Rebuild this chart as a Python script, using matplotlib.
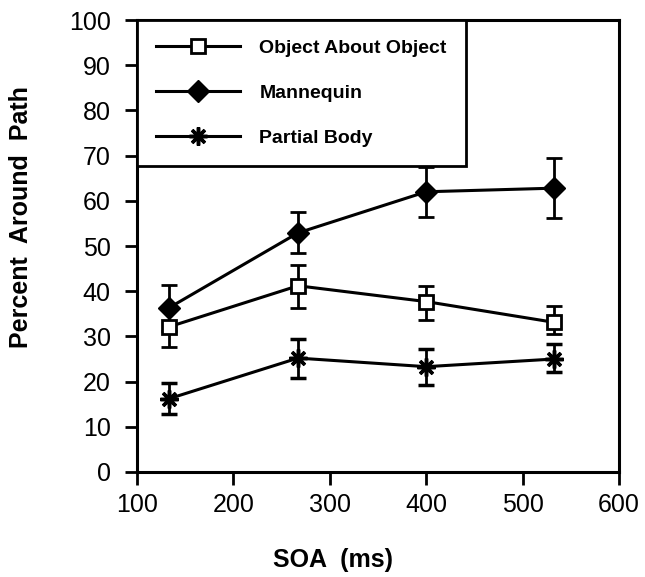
import numpy as np
import matplotlib
matplotlib.use('Agg')
import matplotlib.pyplot as plt

plt.rcParams['font.family'] = ['Liberation Sans', 'DejaVu Sans']

soa = [133, 267, 400, 533]

object_mean = [32.1, 41.2, 37.7, 33.1]
object_lo = [4.4, 4.9, 4.1, 2.6]
object_hi = [4.4, 4.6, 3.5, 3.7]

mannequin_mean = [36.3, 52.9, 62.0, 62.8]
mannequin_lo = [5.0, 4.4, 5.5, 6.5]
mannequin_hi = [5.1, 4.6, 5.5, 6.6]

partial_mean = [16.2, 25.2, 23.3, 25.0]
partial_lo = [3.4, 4.4, 4.1, 2.8]
partial_hi = [3.5, 4.2, 3.9, 3.3]

fig = plt.figure(figsize=(6.45, 5.77), dpi=100)
ax = fig.add_axes([0.2124, 0.182, 0.7473, 0.7833])

lw = 2.2
ax.errorbar(soa, object_mean, yerr=[object_lo, object_hi], color='black', lw=lw,
            marker='s', ms=10, mfc='white', mec='black', mew=2,
            capsize=6, capthick=2, elinewidth=2, label='Object About Object', zorder=3)
ax.errorbar(soa, mannequin_mean, yerr=[mannequin_lo, mannequin_hi], color='black', lw=lw,
            marker='D', ms=11, mfc='black', mec='black',
            capsize=6, capthick=2, elinewidth=2, label='Mannequin', zorder=3)
ax.errorbar(soa, partial_mean, yerr=[partial_lo, partial_hi], color='black', lw=lw,
            marker=(8, 2, 0), ms=13, mec='black', mew=2.5,
            capsize=6, capthick=2, elinewidth=2, label='Partial Body', zorder=3)

ax.set_xlim(100, 600)
ax.set_ylim(0, 100)
ax.set_xticks(range(100, 601, 100))
ax.set_yticks(range(0, 101, 10))
ax.tick_params(labelsize=18, width=2, length=9, direction='out')
ax.tick_params(axis='y', pad=10)
ax.tick_params(axis='x', pad=6)
for s in ax.spines.values():
    s.set_linewidth(2.2)

ax.set_xlabel('SOA  (ms)', fontsize=18, fontweight='bold')
ax.xaxis.set_label_coords(0.407, -0.168)
ax.set_ylabel('Percent  Around  Path', fontsize=18, fontweight='bold')
ax.yaxis.set_label_coords(-0.215, 0.564)

handles, labels = ax.get_legend_handles_labels()
handles = [h[0] for h in handles]
leg = ax.legend(handles, labels, loc='upper left', bbox_to_anchor=(0, 1),
                borderaxespad=0, fontsize=14, handlelength=4.3, handletextpad=1.0,
                labelspacing=1.4, borderpad=1.0, fancybox=False, framealpha=1,
                edgecolor='black')
leg.get_frame().set_linewidth(2)
leg.set_zorder(5)
for t in leg.get_texts():
    t.set_fontweight('bold')

fig.savefig('out.png', dpi=100)
